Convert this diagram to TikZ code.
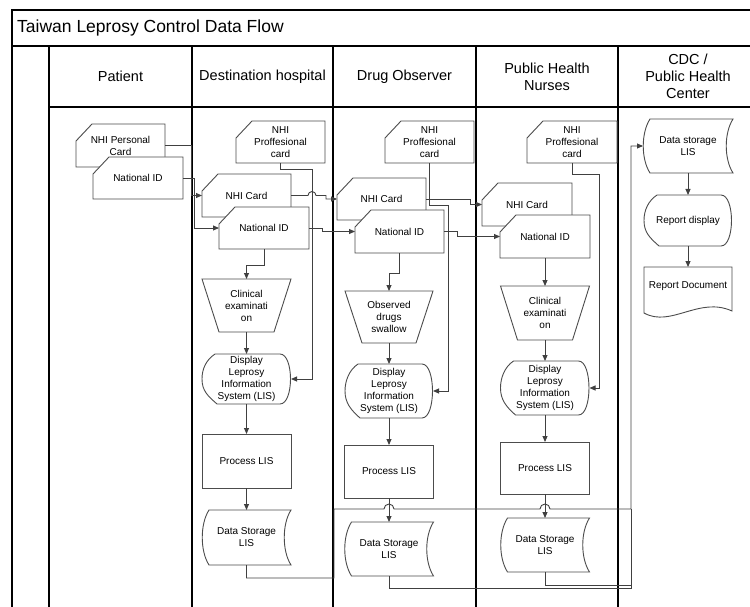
\documentclass[tikz,border=0pt]{standalone}
\usepackage{fontspec}
\setmainfont{Liberation Sans}
\usetikzlibrary{arrows.meta,calc}
\tikzset{
  shp/.style={draw=black!70, line width=0.9pt, fill=white},
  box/.style={inner sep=0pt, outer sep=0pt, draw=none},
  btxt/.style={font=\fontsize{10}{12}\selectfont, align=center, inner sep=0pt},
  con/.style={draw=black!75, line width=0.9pt},
  arr/.style={con, -{Triangle[length=6pt,width=5pt]}},
  lane/.style={draw=black, line width=1.1pt},
  frame/.style={draw=black, line width=2.6pt},
  hdr/.style={font=\fontsize{14.5}{17}\selectfont, align=center, inner sep=0pt},
}
% name, cx, cy, w, h, text
\newcommand\mkcard[6]{%
  \node[box, minimum width=#4pt, minimum height=#5pt] (#1) at (#2,-#3) {};
  \path[shp] ([yshift=-17pt]#1.north west) -- ([xshift=16pt]#1.north west) -- (#1.north east) -- (#1.south east) -- (#1.south west) -- cycle;
  \node[btxt] at (#1) {#6};}
\newcommand\mktrap[6]{%
  \node[box, minimum width=#4pt, minimum height=#5pt] (#1) at (#2,-#3) {};
  \path[shp] (#1.north west) -- (#1.north east) -- ([xshift=-17pt]#1.south east) -- ([xshift=17pt]#1.south west) -- cycle;
  \node[btxt] at (#1) {#6};}
\newcommand\mkdisp[6]{%
  \node[box, minimum width=#4pt, minimum height=#5pt] (#1) at (#2,-#3) {};
  \path[shp] ([xshift=13pt]#1.north west) -- ([xshift=-11pt]#1.north east)
     .. controls ([xshift=3pt]#1.north east) and ([xshift=3pt]#1.south east) .. ([xshift=-11pt]#1.south east)
     -- ([xshift=15pt]#1.south west)
     .. controls ([xshift=6pt,yshift=8pt]#1.south west) and ([yshift=-12pt]#1.west) .. (#1.west)
     .. controls ([yshift=10pt]#1.west) and ([xshift=4pt,yshift=-6pt]#1.north west) .. ([xshift=13pt]#1.north west) -- cycle;
  \node[btxt] at (#1) {#6};}
\newcommand\mkproc[6]{%
  \node[box, minimum width=#4pt, minimum height=#5pt] (#1) at (#2,-#3) {};
  \path[shp] (#1.north west) rectangle (#1.south east);
  \node[btxt] at (#1) {#6};}
\newcommand\mkstore[6]{%
  \node[box, minimum width=#4pt, minimum height=#5pt] (#1) at (#2,-#3) {};
  \path[shp] ([xshift=7pt]#1.north west) -- (#1.north east)
     .. controls ([xshift=-9pt,yshift=-14pt]#1.north east) and ([xshift=-9pt,yshift=14pt]#1.south east) .. (#1.south east)
     -- ([xshift=7pt]#1.south west)
     .. controls ([xshift=-2pt,yshift=14pt]#1.south west) and ([xshift=-2pt,yshift=-14pt]#1.north west) .. ([xshift=7pt]#1.north west) -- cycle;
  \node[btxt] at (#1) {#6};}
\newcommand\mkdoc[6]{%
  \node[box, minimum width=#4pt, minimum height=#5pt] (#1) at (#2,-#3) {};
  \path[shp] (#1.north west) -- (#1.north east) -- ([yshift=9pt]#1.south east)
     .. controls ([xshift=-33pt,yshift=24pt]#1.south east) and ([xshift=27pt,yshift=-8pt]#1.south west) .. ([yshift=7pt]#1.south west) -- cycle;
  \node[btxt] at ([yshift=7pt]#1.center) {#6};}
\begin{document}
\begin{tikzpicture}[x=1pt,y=1pt]
\useasboundingbox (0,0) rectangle (750,-607);
% frame and lanes
\draw[lane] (12,-46) -- (750,-46);
\draw[lane] (49,-107) -- (750,-107);
\foreach \x in {49,192,333,476,618} \draw[lane] (\x,-46) -- (\x,-607);
\draw[frame] (12,-607) -- (12,-10) -- (750,-10);
\node[anchor=west, inner sep=0pt, font=\fontsize{17.5}{20}\selectfont] (title) at (17,-27.5) {Taiwan Leprosy Control Data Flow};
% headers
\node[hdr] (h1) at (120.5,-76.5) {Patient};
\node[hdr] (h2) at (262.5,-76.5) {Destination hospital};
\node[hdr] (h3) at (404.5,-76.5) {Drug Observer};
\node[hdr] (h4) at (547,-76.5) {Public Health\\Nurses};
\node[hdr] (h5) at (688,-76.5) {CDC /\\Public Health\\Center};
% Patient
\mkcard{pcard}{120.5}{145.5}{89}{43}{NHI Personal\\Card}
\mkcard{pid}{138}{178}{90}{42}{National ID}
% Destination hospital
\mkcard{dprof}{280.5}{142}{89}{42}{NHI\\Proffesional\\card}
\mkcard{dnhi}{246.5}{195.5}{89}{43}{NHI Card}
\mkcard{did}{264}{228}{90}{42}{National ID}
\mktrap{dclin}{246.5}{305.5}{89}{53}{Clinical\\examinati\\on}
\mkdisp{ddisp}{246.5}{379}{89}{50}{Display\\Leprosy\\Information\\System (LIS)}
\mkproc{dproc}{246.5}{461}{89}{54}{Process LIS}
\mkstore{dstore}{246.5}{537.5}{89}{55}{Data Storage\\LIS}
% Drug Observer
\mkcard{oprof}{429.5}{142}{89}{42}{NHI\\Proffesional\\card}
\mkcard{onhi}{381.5}{199}{89}{42}{NHI Card}
\mkcard{oid}{399.5}{231.5}{89}{43}{National ID}
\mktrap{otrap}{389}{317}{88}{52}{Observed\\drugs\\swallow}
\mkdisp{odisp}{389}{391}{88}{54}{Display\\Leprosy\\Information\\System (LIS)}
\mkproc{oproc}{389}{471.5}{89}{53}{Process LIS}
\mkstore{ostore}{389}{549}{89}{54}{Data Storage\\LIS}
% Public Health Nurses
\mkcard{nprof}{572}{142}{90}{42}{NHI\\Proffesional\\card}
\mkcard{nnhi}{527}{204.5}{90}{43}{NHI Card}
\mkcard{nid}{545}{236.5}{90}{43}{National ID}
\mktrap{ntrap}{545}{313}{89}{54}{Clinical\\examinati\\on}
\mkdisp{ndisp}{545}{388}{89}{54}{Display\\Leprosy\\Information\\System (LIS)}
\mkproc{nproc}{545}{468}{89}{52}{Process LIS}
\mkstore{nstore}{545}{545}{89}{54}{Data Storage\\LIS}
% CDC
\mkstore{cstore}{688}{146}{90}{54}{Data storage\\LIS}
\mkdisp{crep}{688}{220.5}{88}{51}{Report display}
\mkdoc{cdoc}{688}{293.5}{88}{53}{Report Document}
% connectors: patient -> hospital
\draw[arr] (pcard.east) -| ($(dnhi.west)+(-11,0)$) -- (dnhi.west);
\draw[arr] (pid.east) -| ($(did.west)+(-25,0)$) -- (did.west);
% hospital
\draw[arr] (dprof.south) -- ++(0,-6) -| ($(ddisp.east)+(21,0)$) -- (ddisp.east);
\draw[arr] (dnhi.east) -- ($(dnhi.east)+(17,0)$) arc[start angle=180,end angle=0,radius=4pt] -- ($(dnhi.east)+(35,0)$) |- (onhi.west);
\draw[arr] (did.east) -- ++(13,0) |- (oid.west);
\draw[arr] (did.south) -- ++(0,-16) -| (dclin.north);
\draw[arr] (dclin.south) -- (ddisp.north);
\draw[arr] (ddisp.south) -- (dproc.north);
\draw[arr] (dproc.south) -- (dstore.north);
% drug observer
\draw[arr] (oprof.south) -- ++(0,-42) -| ($(odisp.east)+(15,0)$) -- (odisp.east);
\draw[arr] (onhi.east) -- ++(44,0) |- (nnhi.west);
\draw[arr] (oid.east) -- ++(13,0) |- (nid.west);
\draw[arr] (oid.south) -- ++(0,-20) -| (otrap.north);
\draw[arr] (otrap.south) -- (odisp.north);
\draw[arr] (odisp.south) -- (oproc.north);
\draw[arr] (oproc.south) -- (ostore.north);
% nurses
\draw[arr] (nprof.south) -- ++(0,-11) -| ($(ndisp.east)+(10,0)$) -- (ndisp.east);
\draw[arr] (nid.south) -- (ntrap.north);
\draw[arr] (ntrap.south) -- (ndisp.north);
\draw[arr] (ndisp.south) -- (nproc.north);
\draw[arr] (nproc.south) -- (nstore.north);
% CDC
\draw[arr] (cstore.south) -- (crep.north);
\draw[arr] (crep.south) -- (cdoc.north);
% storage collection line
\coordinate (j1) at (334,-509);
\coordinate (j2) at (631,-509);
\draw[arr] (dstore.south) |- (334,-578) -- (j1)
   -- ($(oproc.south |- j1)+(-5,0)$) arc[start angle=180,end angle=0,radius=5pt]
   -- ($(nproc.south |- j1)+(-5,0)$) arc[start angle=180,end angle=0,radius=5pt]
   -- (j2) |- (cstore.west);
\draw[con] (ostore.south) |- (631,-588) -- (j2);
\draw[con] (nstore.south) |- (631,-585);
\end{tikzpicture}
\end{document}
